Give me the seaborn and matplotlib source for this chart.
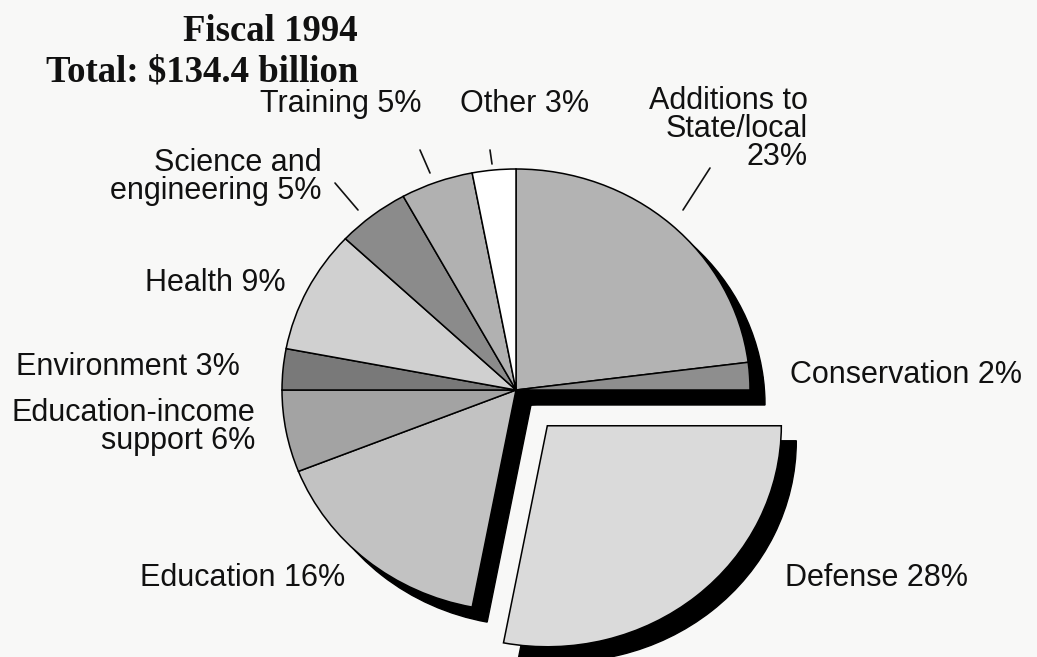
import matplotlib
matplotlib.use("Agg")
import matplotlib.pyplot as plt
from matplotlib.lines import Line2D
from matplotlib.transforms import offset_copy
import seaborn as sns

# Federal R&D-related outlays, fiscal 1994, share of total by function
categories = ["Additions to State/local", "Conservation", "Defense", "Education",
              "Education-income support", "Environment", "Health",
              "Science and engineering", "Training", "Other"]
shares = [23, 2, 28, 16, 6, 3, 9, 5, 5, 3]
greys = ["#b3b3b3", "#8e8e8e", "#dadada", "#c2c2c2", "#a3a3a3",
         "#797979", "#d0d0d0", "#8b8b8b", "#b1b1b1", "#ffffff"]
pulled_out = "Defense"

title_lines = ["Fiscal 1994", "Total: $134.4 billion"]

sns.set_theme(style="white")
plt.rcParams["font.family"] = ["Liberation Sans", "DejaVu Sans"]

W, H, DPI = 1037, 657, 100
BG = "#f8f8f7"
fig = plt.figure(figsize=(W / DPI, H / DPI), dpi=DPI, facecolor=BG)
ax = fig.add_axes([0, 0, 1, 1])
ax.set_facecolor(BG)

explode = [0.21 if c == pulled_out else 0 for c in categories]
pie_kw = dict(explode=explode, startangle=90, counterclock=False)

# black drop shadow: the same pie shifted 15 px right and 15 px down
shadow_tf = offset_copy(ax.transData, fig=fig, x=15, y=-15, units="dots")
shadow_wedges, _ = ax.pie(shares, colors=["black"] * len(shares),
                          wedgeprops=dict(edgecolor="black", linewidth=1.0),
                          **pie_kw)
for w in shadow_wedges:
    w.set_transform(shadow_tf)
    w.set_zorder(0.5)

wedges, _ = ax.pie(shares, colors=greys,
                   wedgeprops=dict(edgecolor="black", linewidth=1.1),
                   **pie_kw)
for w in wedges:
    w.set_zorder(1)

# pie centre at (516, 390) px, slightly wider than tall
cx, cy, rx, ry = 516, 390, 234, 221
ax.set_aspect("auto")
ax.set_xlim(-cx / rx, (W - cx) / rx)
ax.set_ylim(-(H - cy) / ry, cy / ry)
ax.axis("off")


def fxy(x, y):
    return x / W, 1 - y / H


serif = dict(family=["Liberation Serif", "DejaVu Serif"], fontweight="bold",
             fontsize=26.5, color="#111111")
fig.text(*fxy(358, 41), title_lines[0], ha="right", va="baseline", **serif)
fig.text(*fxy(358, 82), title_lines[1], ha="right", va="baseline", **serif)

lab = dict(fontsize=22, color="#111111", linespacing=0.92)
labels = [
    ("Training 5%", 341, 104, "center"),
    ("Other 3%", 525, 104, "center"),
    ("Additions to\nState/local\n23%", 808, 129, "right"),
    ("Science and\nengineering 5%", 322, 177, "right"),
    ("Health 9%", 286, 283, "right"),
    ("Environment 3%", 240, 367, "right"),
    ("Education-income\nsupport 6%", 255, 427, "right"),
    ("Conservation 2%", 790, 375, "left"),
    ("Education 16%", 345, 578, "right"),
    ("Defense 28%", 785, 578, "left"),
]
for text, x, y, ha in labels:
    fig.text(*fxy(x, y), text, ha=ha, va="center", multialignment=ha, **lab)

leaders = [
    ((420, 150), (430, 173)),
    ((490, 150), (492, 164)),
    ((710, 168), (683, 210)),
    ((335, 183), (358, 210)),
]
for (x0, y0), (x1, y1) in leaders:
    p0, p1 = fxy(x0, y0), fxy(x1, y1)
    fig.add_artist(Line2D([p0[0], p1[0]], [p0[1], p1[1]],
                          transform=fig.transFigure, color="#111111", lw=1.2))

fig.savefig("out.png", dpi=DPI, facecolor=BG)
